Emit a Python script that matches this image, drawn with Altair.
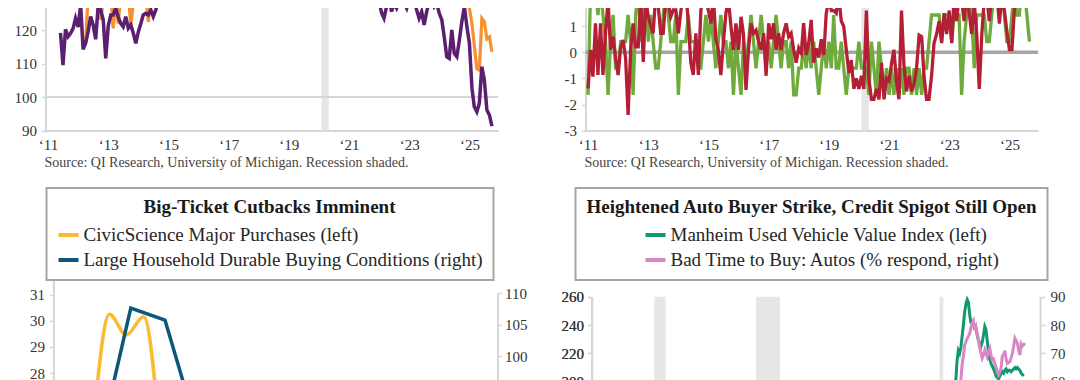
import altair as alt
import pandas as pd

# ---------------- values ----------------
# Top-left panel: two monthly indexes (stretches above the visible top cannot be read)
purple_early_start = "2011-06-01"
purple_early = [119.2, 109.6, 120.3, 118.1, 119.1, 120.6, 123.6,
                121.0, 127.6, 114.3, 116.1, 119.6, 124.1, 121.6, 117.3, 127.6, 126.1, 123.1, 111.6,
                121.4, 124.6, 124.6, 126.6, 124.1, 122.1, 121.1, 124.1, 120.6, 121.6, 119.1, 116.1,
                119.6, 122.1, 124.6, 125.1, 124.6, 126.1, 124.1, 126.1, 130.0]
purple_late_start = "2021-08-01"
purple_late = [130.0, 129.5, 129.0, 128.6, 130.0,
               128.6, 125.1, 123.6, 127.1, 130.0, 125.6, 128.1, 126.6, 128.6, 127.6, 128.1, 126.6,
               129.5, 128.1, 129.5, 126.1, 123.6, 125.6, 121.6, 125.6, 128.6, 130.0, 127.1, 128.1,
               125.1, 123.1, 118.1, 112.1, 111.6, 120.1, 113.1, 112.1, 117.1, 122.6, 127.1, 121.1,
               116.1, 102.6, 97.1, 95.6, 98.1, 109.1, 105.1, 96.1, 94.6, 91.3]
orange_early_start = "2012-04-01"
orange_early = [116.6, 130, 127, 132, 128, 131, 123.1, 129, 132,
                127, 131, 120.6, 128, 122, 130, 133, 129, 131, 121.6, 128, 132,
                130, 127.5, 133, 131, 122.5, 129, 134, 132, 136]
orange_late_start = "2024-10-01"
orange_late = [133, 130, 128, 126.5, 122, 115.6, 108.5, 108.1, 123.6, 122.6, 117.4, 118, 113.6]

# Top-right panel: two monthly standardized series from Jan 2011
tr_start = "2011-01-01"
HH, H1, M0, L1, LL = 2.45, 1.43, 0.41, -0.61, -1.63
tr_green = [
    LL, HH, HH, HH, H1, HH, H1, M0, LL, M0, H1, L1,
    L1, M0, M0, M0, H1, M0, LL, H1, HH, M0, H1, HH,
    M0, H1, M0, L1, L1, M0, H1, HH, H1, M0, M0, H1,
    LL, M0, M0, M0, H1, M0, M0, M0, L1, L1, M0, H1,
    M0, H1, M0, L1, M0, H1, M0, M0, L1, M0, LL, M0,
    L1, LL, M0, L1, M0, H1, M0, L1, M0, H1, M0, L1,
    M0, L1, M0, H1, M0, L1, M0, M0, L1, M0, LL, LL,
    L1, L1, M0, L1, M0, L1, M0, L1, LL, L1, M0, L1,
    M0, L1, H1, L1, L1, M0, L1, LL, L1, L1, L1, L1,
    M0, L1, L1, L1, LL, M0, L1, LL, M0, L1, LL, L1,
    LL, L1, LL, L1, LL, L1, LL, L1, L1, LL, L1, LL,
    L1, LL, L1, L1, M0, H1, H1, H1, H1, M0, H1, H1,
    H1, M0, H1, H1, H1, LL, M0, H1, HH, H1, L1, H1,
    H1, H1, H1, M0, M0, H1, HH, HH, H1, HH, H1, M0,
    M0, H1, HH, H1, H1, HH, HH, H1, M0]
tr_red = [
    -1.38, 0.09, -0.93, 1.11, -0.87, 1.11, -0.87, 0.73, 2.0, 0.09, 0.6, -0.23,
    -0.87, 0.2, 0.47, -0.23, -2.4, 0.09, 1.11, 0.21, 0.21, 2.1, -0.37, 2.0,
    1.36, 1.0, 0.73, 2.2, 1.8, 0.73, 0.73, 2.0, 1.9, 1.36, 1.62, 1.62,
    0.73, 1.6, 2.1, 2.3, 1.2, -0.4, -0.87, 0.73, -0.87, 1.6, 2.2, 2.0,
    1.6, 1.11, 2.2, 0.5, 0.09, -0.87, 0.35, 1.5, 2.0, 1.0, 0.09, 1.11,
    0.09, 1.36, 0.7, -1.44, 0.09, 1.11, 0.73, 0.85, 0.4, 0.09, 0.73, -0.9,
    1.11, 0.5, 1.11, 0.09, 0.73, 0.09, 0.73, 1.11, 0.6, 0.73, 0.09, -0.4,
    0.16, -0.03, 1.12, -0.1, 0.3, 1.24, -0.4, 0.15, -0.2, 0.5, -0.1, 1.5,
    2.0, 1.6, 1.6, 1.5, 2.2, 1.2, 1.0, 0.1, -0.8, -0.3, -1.4, -1.0,
    -1.4, -0.9, -1.4, 1.6, -1.0, -1.8, -1.8, -1.4, -1.8, -0.4, -1.8, -1.0,
    -1.1, -0.4, 0.1, -1.1, -1.8, 1.6, -0.5, -1.5, -0.9, -1.5, -1.2, -0.6,
    0.66, 0.6, -0.9, -1.8, -1.8, -0.9, 0.35, 0.7, 1.2, 0.35, 1.5, 0.7,
    1.6, 0.35, 2.1, 1.2, 2.2, 2.0, 1.2, 2.3, 1.5, 0.7, 1.9, 0.7,
    -1.4, 0.7, 2.0, 2.2, 1.2, 2.2, 2.0, 2.3, 1.1, 2.2, 1.6, 0.8,
    0.1, 0.1, 1.6, 2.2, 2.4]

# Bottom-left panel
bl_yellow_dates = ["2023-08-01", "2023-09-01", "2023-10-01", "2023-11-01", "2023-12-01"]
bl_yellow = [25.5, 30.25, 29.45, 30.15, 25.3]
bl_blue_dates = ["2023-08-09", "2023-10-09", "2023-12-09", "2024-02-09"]
bl_blue = [84.0, 107.6, 105.7, 87.0]

# Bottom-right panel (monthly)
br_green_start = "2020-12-01"
br_green = [178, 184, 192, 201, 215, 222, 220, 224, 232, 240, 249, 255, 258,
            256, 247, 242, 241, 240, 239, 238, 233, 229, 227, 225, 228,
            233, 239, 237, 229, 221, 216, 213, 211, 209, 207, 204, 203,
            202, 204, 206, 207, 206, 208, 209, 207, 208, 208, 207, 208,
            209, 210, 209, 210, 209, 208, 206, 205, 204]
br_pink_start = "2021-06-01"
br_pink = [55, 60.6, 66, 69, 73, 74, 75.3,
           76, 77.1, 79, 80.6, 81.5, 78.2, 79.4, 77, 74.7, 72, 70, 68.3,
           69.5, 71.2, 70, 68.8, 70.5, 71.8, 69.5, 67.7, 68, 66.5, 65, 63.5,
           62.4, 63.5, 64.7, 69.1, 69.5, 70.9, 68, 66.5, 66.8, 67.1, 68.5, 70,
           72.5, 75.3, 74.5, 73.6, 71, 69.4, 73.3, 72.5, 73, 73.6]

recession_start = ["2001-03-01", "2007-12-01", "2020-02-01"]
recession_end = ["2001-11-30", "2009-06-30", "2020-04-30"]

tl_ref_line = [100]
tr_ref_line = [0]
tl_y_ticks = [90, 100, 110, 120, 130]
tr_y_ticks = [-3, -2, -1, 0, 1, 2]
top_x_years = [2011, 2013, 2015, 2017, 2019, 2021, 2023, 2025]
bl_left_ticks = [28, 29, 30, 31]
bl_right_ticks = [85, 90, 95, 100, 105, 110]
br_left_ticks = [140, 160, 180, 200, 220, 240, 260]
br_right_ticks = [30, 40, 50, 60, 70, 80, 90]

SOURCE = "Source: QI Research, University of Michigan. Recession shaded."
BL_TITLE = "Big-Ticket Cutbacks Imminent"
BL_NAMES = ["CivicScience Major Purchases (left)",
            "Large Household Durable Buying Conditions (right)"]
BR_TITLE = "Heightened Auto Buyer Strike, Credit Spigot Still Open"
BR_NAMES = ["Manheim Used Vehicle Value Index (left)",
            "Bad Time to Buy: Autos (% respond, right)"]

# ---------------- styling / layout ----------------
W, H = 1064, 372
SERIF = "Liberation Serif"
GRID = "#d6d6d6"
SHADE = "#e6e6e6"
PURPLE, ORANGE = "#5a1f6e", "#f7912f"
TR_GREEN, TR_RED = "#6eab3c", "#b51f35"
YELLOW, BLUE = "#fcbb2f", "#0d5878"
BR_GREEN, PINK = "#10996e", "#d887c4"


def dt(s):
    y, m, d = (int(p) for p in s.split("-"))
    return alt.DateTime(year=y, month=m, date=d)


def monthly(start, values, name, seg=0):
    return pd.DataFrame({"date": pd.date_range(start, periods=len(values), freq="MS"),
                         "value": values, "series": name, "seg": seg})


def dated(dates, values, name):
    return pd.DataFrame({"date": pd.to_datetime(dates), "value": values, "series": name})


rec = pd.DataFrame({"start": pd.to_datetime(recession_start), "end": pd.to_datetime(recession_end)})
rec_top = rec[rec["start"].dt.year >= 2011]

purple_df = pd.concat([monthly(purple_early_start, purple_early, "p", 0),
                       monthly(purple_late_start, purple_late, "p", 1)])
orange_df = pd.concat([monthly(orange_early_start, orange_early, "o", 0),
                       monthly(orange_late_start, orange_late, "o", 1)])
trg_df = monthly(tr_start, tr_green, "g")
trr_df = monthly(tr_start, tr_red, "r")
bly_df = dated(bl_yellow_dates, bl_yellow, BL_NAMES[0])
blb_df = dated(bl_blue_dates, bl_blue, BL_NAMES[1])
brg_df = monthly(br_green_start, br_green, BR_NAMES[0])
brp_df = monthly(br_pink_start, br_pink, BR_NAMES[1])

TOP_DOM = [dt("2010-12-01"), dt("2025-12-15")]
tl_x = alt.Scale(domain=TOP_DOM, range=[37.5, 490.1], nice=False)
tr_x = alt.Scale(domain=TOP_DOM, range=[577.5, 1030.1], nice=False)
tl_y = alt.Scale(domain=[90, 130], range=[122.5, -11.1], nice=False, zero=False)
tr_y = alt.Scale(domain=[-3, 2], range=[122.6, -7.9], nice=False, zero=False)
bl_x = alt.Scale(domain=[dt("2023-05-24"), dt("2025-07-24")], range=[45.4, 489.5], nice=False)
bl_yl = alt.Scale(domain=[27, 32], range=[391.3, 260.3], nice=False, zero=False)
bl_yr = alt.Scale(domain=[85, 110], range=[442.5, 285], nice=False, zero=False)
br_x = alt.Scale(domain=[dt("1997-01-01"), dt("2026-10-01")], range=[583.6, 1032], nice=False)
br_yl = alt.Scale(domain=[140, 260], range=[458.7, 288.7], nice=False, zero=False)
br_yr = alt.Scale(domain=[30, 90], range=[458.7, 288.7], nice=False, zero=False)

base_axis = dict(grid=False, domainColor=GRID, domainWidth=2, tickColor=GRID, tickWidth=1.5,
                 labelFont=SERIF, labelFontSize=15, labelColor="#333333",
                 labelOverlap=False, labelFlush=False, title=None)


def x_axis_top(title_x):
    return alt.Axis(orient="bottom", offset=122.5 - H, values=[dt(f"{y}-01-01") for y in top_x_years],
                    format="\u2018%y", formatType="time", ticks=False, labelPadding=7,
                    **{**base_axis, "title": SOURCE}, titleX=title_x, titleY=31.5,
                    titleAlign="left", titleBaseline="middle", titleFont=SERIF, titleFontSize=14,
                    titleFontWeight="normal", titleColor="#444444")


tl_xa = x_axis_top(36)
tr_xa = x_axis_top(576)
tl_ya = alt.Axis(orient="left", offset=-37.5, values=tl_y_ticks, tickSize=4, labelPadding=5, **base_axis)
tr_ya = alt.Axis(orient="left", offset=-577.5, values=tr_y_ticks, tickSize=4, labelPadding=5,
                 labelExpr="'' + datum.value", **base_axis)
bl_la = alt.Axis(orient="left", offset=-45.4, values=bl_left_ticks, tickSize=4, labelPadding=5, **base_axis)
bl_ra = alt.Axis(orient="right", offset=489.5 - W, values=bl_right_ticks, tickSize=4, labelPadding=3, **base_axis)
br_la = alt.Axis(orient="left", offset=-583.6, values=br_left_ticks, tickSize=4, labelPadding=4, **base_axis)
br_ra = alt.Axis(orient="right", offset=1032 - W, values=br_right_ticks, tickSize=5, labelPadding=5, **base_axis)

legend_common = dict(orient="none", direction="vertical", titleFont=SERIF, titleFontSize=19,
                     titleFontWeight="bold", titleColor="#1a1a1a", titleAnchor="middle",
                     titleAlign="center", titlePadding=6, titleLimit=1000,
                     labelFont=SERIF, labelFontSize=19, labelColor="#262626", labelLimit=1000,
                     labelOffset=3, symbolType="stroke", symbolSize=400, symbolStrokeWidth=4,
                     rowPadding=3, padding=10, strokeColor="#a6a6a6", fillColor="white")
bl_legend = alt.Legend(title=BL_TITLE, legendX=38.5, legendY=180, **legend_common)
br_legend = alt.Legend(title=BR_TITLE, legendX=567.5, legendY=180, symbolOffset=20, **legend_common)
bl_color = alt.Scale(domain=BL_NAMES, range=[YELLOW, BLUE])
br_color = alt.Scale(domain=BR_NAMES, range=[BR_GREEN, PINK])


def top_panel(xs, ys, xa, ya, ref_vals, ref_color, ref_width, lines):
    shade = alt.Chart(rec_top).mark_rect(color=SHADE, clip=True).encode(
        x=alt.X("start:T", scale=xs, axis=xa), x2="end:T",
        y=alt.YDatum(ys.domain[0], scale=ys, axis=ya), y2=alt.datum(ys.domain[1] + 10))
    ref = alt.Chart(pd.DataFrame({"v": ref_vals})).mark_rule(color=ref_color, strokeWidth=ref_width).encode(
        x=alt.XDatum(TOP_DOM[0], type="temporal", scale=xs, axis=xa), x2=alt.datum(TOP_DOM[1]),
        y=alt.Y("v:Q", scale=ys, axis=ya))
    layers = [shade, ref]
    for df, color, width in lines:
        layers.append(alt.Chart(df).mark_line(color=color, strokeWidth=width, clip=True).encode(
            x=alt.X("date:T", scale=xs, axis=xa), y=alt.Y("value:Q", scale=ys, axis=ya),
            detail="seg:N"))
    return alt.layer(*layers)


tl = top_panel(tl_x, tl_y, tl_xa, tl_ya, tl_ref_line, GRID, 2,
               [(orange_df, ORANGE, 3.2), (purple_df, PURPLE, 3.5)])
tr = top_panel(tr_x, tr_y, tr_xa, tr_ya, tr_ref_line, "#a6a6a6", 3.5,
               [(trg_df, TR_GREEN, 3.3), (trr_df, TR_RED, 3.3)])

bl = alt.layer(
    alt.Chart(bly_df).mark_line(strokeWidth=3.5, interpolate="monotone", clip=True).encode(
        x=alt.X("date:T", scale=bl_x, axis=None),
        y=alt.Y("value:Q", scale=bl_yl, axis=bl_la),
        color=alt.Color("series:N", scale=bl_color, legend=bl_legend)),
    alt.Chart(blb_df).mark_line(strokeWidth=3.5, clip=True).encode(
        x=alt.X("date:T", scale=bl_x, axis=None),
        y=alt.Y("value:Q", scale=bl_yr, axis=bl_ra),
        color=alt.Color("series:N", scale=bl_color, legend=bl_legend)),
).resolve_scale(y="independent")

br_shade = alt.Chart(rec).mark_rect(color=SHADE, clip=True).encode(
    x=alt.X("start:T", scale=br_x, axis=None), x2="end:T",
    y=alt.YDatum(140, scale=br_yl, axis=br_la), y2=alt.datum(260))
br = alt.layer(
    br_shade,
    alt.Chart(brg_df).mark_line(strokeWidth=3, clip=True).encode(
        x=alt.X("date:T", scale=br_x, axis=None),
        y=alt.Y("value:Q", scale=br_yl, axis=br_la),
        color=alt.Color("series:N", scale=br_color, legend=br_legend)),
    alt.Chart(brp_df).mark_line(strokeWidth=3, clip=True).encode(
        x=alt.X("date:T", scale=br_x, axis=None),
        y=alt.Y("value:Q", scale=br_yr, axis=br_ra),
        color=alt.Color("series:N", scale=br_color, legend=br_legend)),
).resolve_scale(y="independent")

chart = alt.layer(tl, tr, bl, br).resolve_scale(
    x="independent", y="independent", color="independent"
).properties(
    width=W, height=H, padding=0, autosize=alt.AutoSizeParams(type="none")
).configure_view(stroke=None).configure_legend(strokeWidth=2)

chart.save("out.html", embed_options={"renderer": "svg", "actions": False})
